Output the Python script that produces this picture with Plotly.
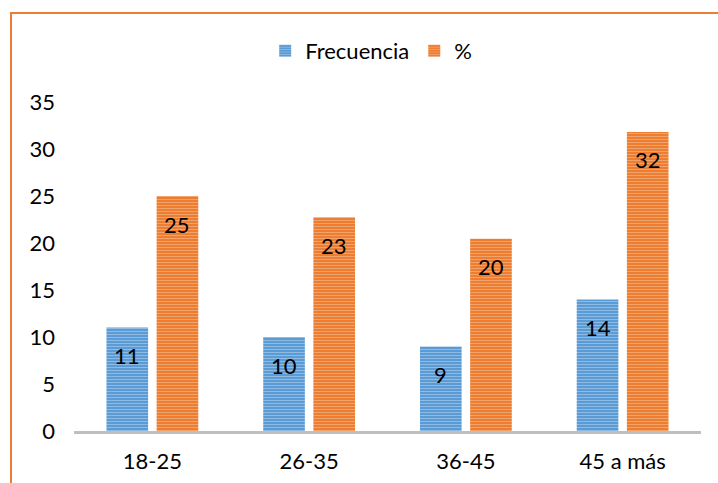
import plotly.graph_objects as go

# Age groups and their counts / percentages
categorias = ["18-25", "26-35", "36-45", "45 a más"]
frecuencia = [11, 10, 9, 14]
porcentaje = [25.0, 22.73, 20.45, 31.82]

AZUL = "#5B9BD5"
AZUL_CLARO = "#C4DCF1"
NARANJA = "#ED7D31"
NARANJA_CLARO = "#F8C9A8"
FUENTE = "Lato"
TAM = 22

W, H = 718, 483
ML, MR, MT, MB = 74, 17, 102, 52

fig = go.Figure()
fig.add_bar(
    name="Frecuencia", x=categorias, y=frecuencia,
    marker=dict(color=AZUL, line=dict(width=0),
                pattern=dict(shape="-", bgcolor=AZUL, fgcolor=AZUL_CLARO,
                             size=3, solidity=0.35, fillmode="overlay")),
)
fig.add_bar(
    name="%", x=categorias, y=porcentaje,
    marker=dict(color=NARANJA, line=dict(width=0),
                pattern=dict(shape="-", bgcolor=NARANJA, fgcolor=NARANJA_CLARO,
                             size=3, solidity=0.35, fillmode="overlay")),
)

# value labels just inside the top of each bar
for serie, desplaz in ((frecuencia, -25), (porcentaje, 25)):
    for c, v in zip(categorias, serie):
        fig.add_annotation(
            x=c, y=v, text=f"{v:.0f}", showarrow=False,
            xshift=desplaz, yshift=-28, yanchor="middle",
            font=dict(family=FUENTE, size=TAM, color="black"),
        )

# outer chart frame
pw, ph = W - ML - MR, H - MT - MB
fig.add_shape(
    type="rect", xref="paper", yref="paper",
    x0=(11 - ML) / pw, x1=1.5,
    y0=-0.5, y1=1 + (MT - 13) / ph,
    line=dict(color=NARANJA, width=2), fillcolor="rgba(0,0,0,0)",
)

fig.update_layout(
    width=W, height=H,
    margin=dict(l=ML, r=MR, t=MT, b=MB, autoexpand=False),
    paper_bgcolor="white", plot_bgcolor="white",
    barmode="group", bargap=0.36, bargroupgap=0.17,
    font=dict(family=FUENTE, size=TAM, color="black"),
    showlegend=True,
    legend=dict(orientation="h", x=0.474, xanchor="center",
                y=1 + (MT - 51) / ph, yanchor="middle",
                font=dict(family=FUENTE, size=TAM, color="black"),
                bgcolor="rgba(0,0,0,0)"),
    xaxis=dict(showgrid=False, zeroline=False, showline=True,
               linecolor="#BFBFBF", linewidth=3, ticks="",
               ticklabelstandoff=9,
               tickfont=dict(family=FUENTE, size=TAM, color="black")),
    yaxis=dict(range=[0, 35], dtick=5, showgrid=False, zeroline=False,
               showline=False, ticks="", ticklabelstandoff=18,
               tickfont=dict(family=FUENTE, size=TAM, color="black")),
)

fig.write_html("out.html")
